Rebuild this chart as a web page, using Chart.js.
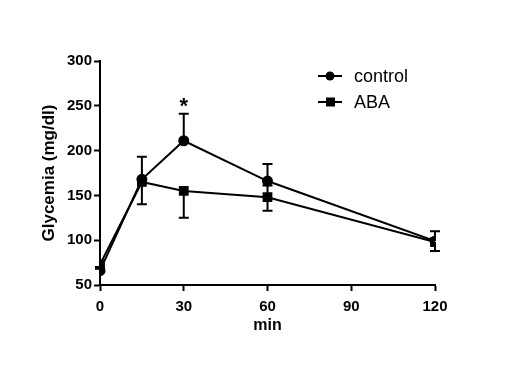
<!DOCTYPE html>
<html>
<head>
<meta charset="utf-8">
<script src="https://cdn.jsdelivr.net/npm/chart.js@4"></script>
<style>
    html, body { margin: 0; padding: 0; background: #fff; }
    #wrap { width: 509px; height: 389px; }
</style>
</head>
<body>
<div id="wrap"><canvas id="chart" width="509" height="389"></canvas></div>
<script>
// Time points (min)
const timePoints = [0, 15, 30, 60, 120];

// Glycemia means (mg/dl)
const controlValues = [66, 168, 211, 166, 99];
const abaValues = [73, 165, 155, 148, 98];

// Error bars (SEM), drawn one-sided like the original figure
const controlErrUp = [4, 25, 30, 19, 11];
const controlErrDown = [0, 0, 0, 0, 0];
const abaErrUp = [0, 0, 0, 13, 0];
const abaErrDown = [5, 25, 30, 15, 10];

// Axis ticks
const xTicks = [0, 30, 60, 90, 120];
const yTicks = [50, 100, 150, 200, 250, 300];

// Significance marker
const starPoint = { x: 30, y: 253, label: '*' };

const font = "'Liberation Sans', Arial, Helvetica, sans-serif";

const toPoints = (vals) => vals.map((v, i) => ({ x: timePoints[i], y: v }));

// Error bars with caps
const errorBarPlugin = {
    id: 'errorBars',
    afterDatasetsDraw(chart) {
        const ctx = chart.ctx;
        const xs = chart.scales.x;
        const ys = chart.scales.y;
        chart.data.datasets.forEach(ds => {
            ds.data.forEach((p, i) => {
                const px = xs.getPixelForValue(p.x);
                const top = ys.getPixelForValue(p.y + ds.errUp[i]);
                const bot = ys.getPixelForValue(p.y - ds.errDown[i]);
                const mid = ys.getPixelForValue(p.y);
                ctx.save();
                ctx.strokeStyle = '#000';
                ctx.lineWidth = 2;
                ctx.beginPath();
                if (ds.errUp[i] > 0) {
                    ctx.moveTo(px, mid); ctx.lineTo(px, top);
                    ctx.moveTo(px - 5, top); ctx.lineTo(px + 5, top);
                }
                if (ds.errDown[i] > 0) {
                    ctx.moveTo(px, mid); ctx.lineTo(px, bot);
                    ctx.moveTo(px - 5, bot); ctx.lineTo(px + 5, bot);
                }
                ctx.stroke();
                ctx.restore();
            });
        });
    }
};

// Asterisk + legend with line samples
const annotationPlugin = {
    id: 'annotations',
    afterDraw(chart) {
        const ctx = chart.ctx;
        const xs = chart.scales.x;
        const ys = chart.scales.y;
        ctx.save();
        ctx.fillStyle = '#000';
        ctx.font = 'bold 22px ' + font;
        ctx.textAlign = 'center';
        ctx.textBaseline = 'middle';
        ctx.fillText(starPoint.label, xs.getPixelForValue(starPoint.x), ys.getPixelForValue(starPoint.y) + 4);

        // legend
        const items = chart.data.datasets;
        ctx.font = '18px ' + font;
        ctx.textAlign = 'left';
        items.forEach((ds, i) => {
            const y = 76 + i * 26;
            ctx.strokeStyle = '#000';
            ctx.lineWidth = 2;
            ctx.beginPath();
            ctx.moveTo(318, y); ctx.lineTo(342, y);
            ctx.stroke();
            ctx.beginPath();
            if (ds.pointStyle === 'circle') {
                ctx.arc(330, y, 4.5, 0, Math.PI * 2);
            } else {
                ctx.rect(326, y - 4.5, 9, 9);
            }
            ctx.fill();
            ctx.fillText(ds.label, 354, y + 1);
        });
        ctx.restore();
    }
};

const ctx = document.getElementById('chart').getContext('2d');

new Chart(ctx, {
    type: 'line',
    data: {
        datasets: [
            {
                label: 'control',
                data: toPoints(controlValues),
                errUp: controlErrUp,
                errDown: controlErrDown,
                borderColor: '#000',
                backgroundColor: '#000',
                borderWidth: 2,
                pointStyle: 'circle',
                pointRadius: 4.5,
                pointHoverRadius: 4.5,
                tension: 0
            },
            {
                label: 'ABA',
                data: toPoints(abaValues),
                errUp: abaErrUp,
                errDown: abaErrDown,
                borderColor: '#000',
                backgroundColor: '#000',
                borderWidth: 2,
                pointStyle: 'rect',
                pointRadius: 5.5,
                pointHoverRadius: 5.5,
                tension: 0
            }
        ]
    },
    options: {
        responsive: false,
        animation: false,
        layout: {
            padding: { left: 39, right: 74, top: 61, bottom: 54 }
        },
        plugins: {
            legend: { display: false },
            tooltip: { enabled: false }
        },
        scales: {
            x: {
                type: 'linear',
                min: 0,
                max: 120,
                afterBuildTicks: (scale) => { scale.ticks = xTicks.map(v => ({ value: v })); },
                afterFit: (scale) => { scale.height = 50; },
                grid: {
                    drawOnChartArea: false,
                    drawTicks: true,
                    tickLength: 6,
                    tickWidth: 2,
                    tickColor: '#000'
                },
                border: { color: '#000', width: 2 },
                ticks: {
                    color: '#000',
                    padding: 7,
                    maxRotation: 0,
                    font: { family: font, size: 15, weight: 'bold' }
                },
                title: {
                    display: true,
                    text: 'min',
                    color: '#000',
                    padding: { top: 0, bottom: 0 },
                    font: { family: font, size: 16, weight: 'bold' }
                }
            },
            y: {
                type: 'linear',
                min: 50,
                max: 300,
                afterBuildTicks: (scale) => { scale.ticks = yTicks.map(v => ({ value: v })); },
                afterFit: (scale) => { scale.width = 61; },
                grid: {
                    drawOnChartArea: false,
                    drawTicks: true,
                    tickLength: 6,
                    tickWidth: 2,
                    tickColor: '#000'
                },
                border: { color: '#000', width: 2 },
                ticks: {
                    color: '#000',
                    padding: 2,
                    font: { family: font, size: 15, weight: 'bold' }
                },
                title: {
                    display: true,
                    text: 'Glycemia (mg/dl)',
                    color: '#000',
                    padding: { top: 0, bottom: 0 },
                    font: { family: font, size: 17, weight: 'bold' }
                }
            }
        }
    },
    plugins: [errorBarPlugin, annotationPlugin]
});
</script>
</body>
</html>
